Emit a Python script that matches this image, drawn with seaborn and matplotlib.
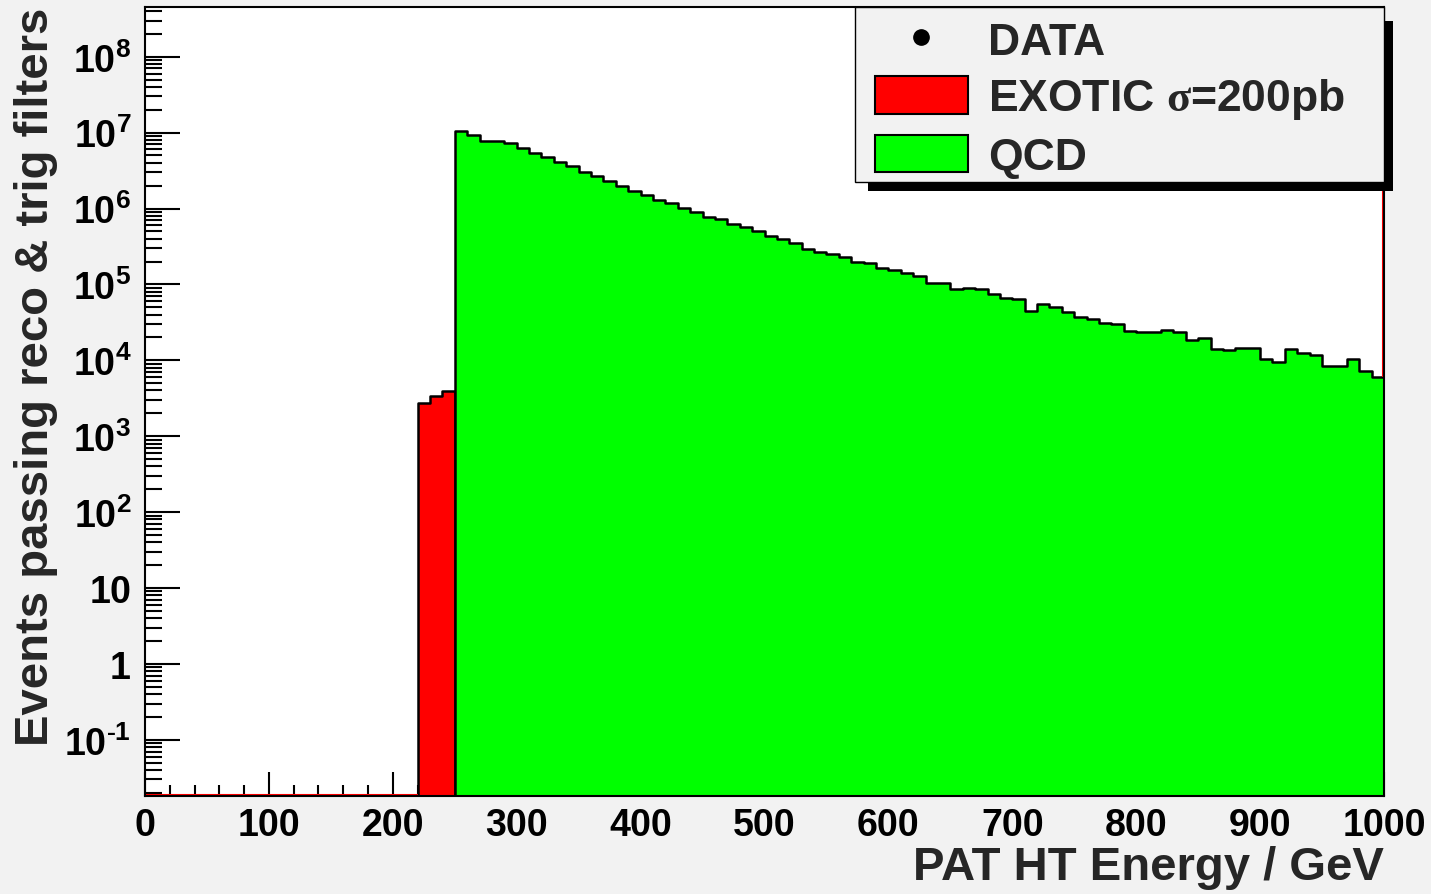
import numpy as np
import pandas as pd
import matplotlib
matplotlib.use("Agg")
import matplotlib.pyplot as plt
import matplotlib.transforms as mtransforms
import seaborn as sns
from matplotlib.patches import Patch, Rectangle
from matplotlib.lines import Line2D
from matplotlib.ticker import (FixedLocator, FixedFormatter, MultipleLocator,
                               LogLocator, NullFormatter)

# ---- histogram contents (10 GeV bins) ----
qcd_bin_low = list(range(250, 1000, 10))
qcd_events = [
    1.06e7, 9.29e6, 7.82e6, 7.67e6, 7.36e6, 6.21e6, 5.43e6, 4.73e6, 4.14e6, 3.60e6,
    3.05e6, 2.65e6, 2.30e6, 2.00e6, 1.70e6, 1.52e6, 1.29e6, 1.19e6, 1.01e6, 9.08e5,
    7.80e5, 7.28e5, 6.19e5, 5.65e5, 5.06e5, 4.39e5, 3.96e5, 3.48e5, 2.95e5, 2.65e5,
    2.52e5, 2.32e5, 1.95e5, 1.90e5, 1.64e5, 1.55e5, 1.41e5, 1.28e5, 1.05e5, 1.04e5,
    8.61e4, 8.89e4, 8.69e4, 7.48e4, 6.56e4, 6.43e4, 4.50e4, 5.47e4, 5.08e4, 4.33e4,
    3.75e4, 3.49e4, 3.09e4, 2.98e4, 2.45e4, 2.33e4, 2.36e4, 2.51e4, 2.36e4, 1.85e4,
    1.99e4, 1.41e4, 1.36e4, 1.44e4, 1.45e4, 1.04e4, 9.42e3, 1.41e4, 1.26e4, 1.19e4,
    8.41e3, 8.41e3, 1.04e4, 7.16e3, 6.08e3,
]
exotic_bin_low = [220, 230, 240]
exotic_events = [2.74e3, 3.36e3, 3.91e3]
bin_width = 10

legend_labels = ["DATA", r"EXOTIC $\mathrm{\sigma}$=200pb", "QCD"]
y_tick_values = [1e-1, 1, 10, 1e2, 1e3, 1e4, 1e5, 1e6, 1e7, 1e8]
y_tick_labels = [r"$\mathbf{10^{\text{-}1}}$", r"$\mathbf{1}$", r"$\mathbf{10}$",
                 r"$\mathbf{10^{2}}$", r"$\mathbf{10^{3}}$", r"$\mathbf{10^{4}}$",
                 r"$\mathbf{10^{5}}$", r"$\mathbf{10^{6}}$", r"$\mathbf{10^{7}}$",
                 r"$\mathbf{10^{8}}$"]
x_title = "PAT HT Energy / GeV"
y_title = "Events passing reco & trig filters"

# ---- style ----
bg = "#f2f2f2"
qcd_color = "#00ff00"
exotic_color = "#ff0000"

sns.set_theme(style="ticks")
plt.rcParams.update({
    "font.family": ["Liberation Sans", "DejaVu Sans"],
    "font.weight": "bold",
    "mathtext.fontset": "custom",
    "mathtext.bf": "Liberation Sans:bold",
    "mathtext.rm": "Liberation Serif",
    "mathtext.it": "Liberation Serif:italic",
    "mathtext.sf": "Liberation Sans",
    "axes.linewidth": 1.5,
})

fig = plt.figure(figsize=(14.31, 8.95), dpi=100, facecolor=bg)
ax = fig.add_axes([145 / 1431, 98 / 895, 1239 / 1431, 789 / 895])
ax.set_facecolor("white")
ax.set_yscale("log")

def to_frame(lows, counts):
    lows = np.asarray(lows, dtype=float)
    return pd.DataFrame({"HT": lows + bin_width / 2, "events": counts})

def edges_of(lows):
    return list(lows) + [lows[-1] + bin_width]

exo_df = to_frame(exotic_bin_low, exotic_events)
qcd_df = to_frame(qcd_bin_low, qcd_events)

sns.histplot(data=exo_df, x="HT", weights="events", bins=edges_of(exotic_bin_low),
             element="step", fill=True, color=exotic_color, alpha=1,
             edgecolor="black", linewidth=1.8, ax=ax, zorder=2)
sns.histplot(data=qcd_df, x="HT", weights="events", bins=edges_of(qcd_bin_low),
             element="step", fill=True, color=qcd_color, alpha=1,
             edgecolor="black", linewidth=1.8, ax=ax, zorder=2)

y_lo, y_hi = 10 ** -1.741, 10 ** 8.655
ax.set_xlim(0, 1000)
ax.set_ylim(y_lo, y_hi)

# exotic outline along the empty region and the upper edge at the last bin
shift_left = mtransforms.offset_copy(ax.transData, fig=fig, x=-1.5, y=0, units="dots")
shift_up = mtransforms.offset_copy(ax.transData, fig=fig, x=0, y=1.5, units="dots")
ax.vlines(edges_of(qcd_bin_low)[-1], qcd_events[-1], y_hi, color=exotic_color,
          lw=1.5, transform=shift_left, zorder=3)
ax.hlines(y_lo, 0, exotic_bin_low[0], color=exotic_color, lw=1.5,
          transform=shift_up, zorder=3)

# ---- axes and ticks ----
ax.xaxis.set_major_locator(MultipleLocator(100))
ax.xaxis.set_minor_locator(MultipleLocator(20))
ax.yaxis.set_major_locator(FixedLocator(y_tick_values))
ax.yaxis.set_major_formatter(FixedFormatter(y_tick_labels))
ax.yaxis.set_minor_locator(LogLocator(base=10, subs=np.arange(2, 10), numticks=100))
ax.yaxis.set_minor_formatter(NullFormatter())
ax.tick_params(axis="both", which="both", direction="in", color="black",
               width=1.5, top=False, right=False, labelcolor="black")
ax.tick_params(axis="x", which="major", length=17, labelsize=27, pad=8)
ax.tick_params(axis="x", which="minor", length=8)
ax.tick_params(axis="y", which="major", length=25, labelsize=27, pad=10)
ax.tick_params(axis="y", which="minor", length=12)
for lab in ax.get_xticklabels() + ax.get_yticklabels():
    lab.set_fontweight("bold")
for sp in ax.spines.values():
    sp.set_visible(True)
    sp.set_color("black")
    sp.set_linewidth(1.5)
    sp.set_zorder(10)

ax.set_xlabel(x_title, loc="right", fontsize=34, fontweight="bold")
ax.set_ylabel(y_title, loc="top", fontsize=34, fontweight="bold")
ax.xaxis.set_label_coords(1.0, -0.062)
ax.yaxis.set_label_coords(-0.07, 1.0)

# ---- legend with drop shadow ----
box_x0, box_y0 = 0.573, 0.778
ax.add_patch(Rectangle((0.5835, 0.7674), 1.0073 - 0.5835, 0.9823 - 0.7674,
                       transform=ax.transAxes, facecolor="black", edgecolor="none",
                       clip_on=False, zorder=11))
ax.add_patch(Rectangle((box_x0, box_y0), 1 - box_x0, 1 - box_y0,
                       transform=ax.transAxes, facecolor=bg, edgecolor="black",
                       lw=1.0, clip_on=False, zorder=12))
handles = [
    Line2D([], [], marker="o", color="black", ls="none", markersize=11),
    Patch(facecolor=exotic_color, edgecolor="black", linewidth=1.5),
    Patch(facecolor=qcd_color, edgecolor="black", linewidth=1.5),
]
leg = ax.legend(handles, legend_labels, loc="upper left",
                bbox_to_anchor=(box_x0, 1.009), frameon=False,
                prop={"family": ["Liberation Sans", "DejaVu Sans"], "weight": "bold", "size": 32},
                borderpad=0.45, borderaxespad=0, handlelength=2.09, handleheight=0.92,
                handletextpad=0.45, labelspacing=0.30)
leg.set_zorder(13)

fig.savefig("out.png", dpi=100, facecolor=bg)
